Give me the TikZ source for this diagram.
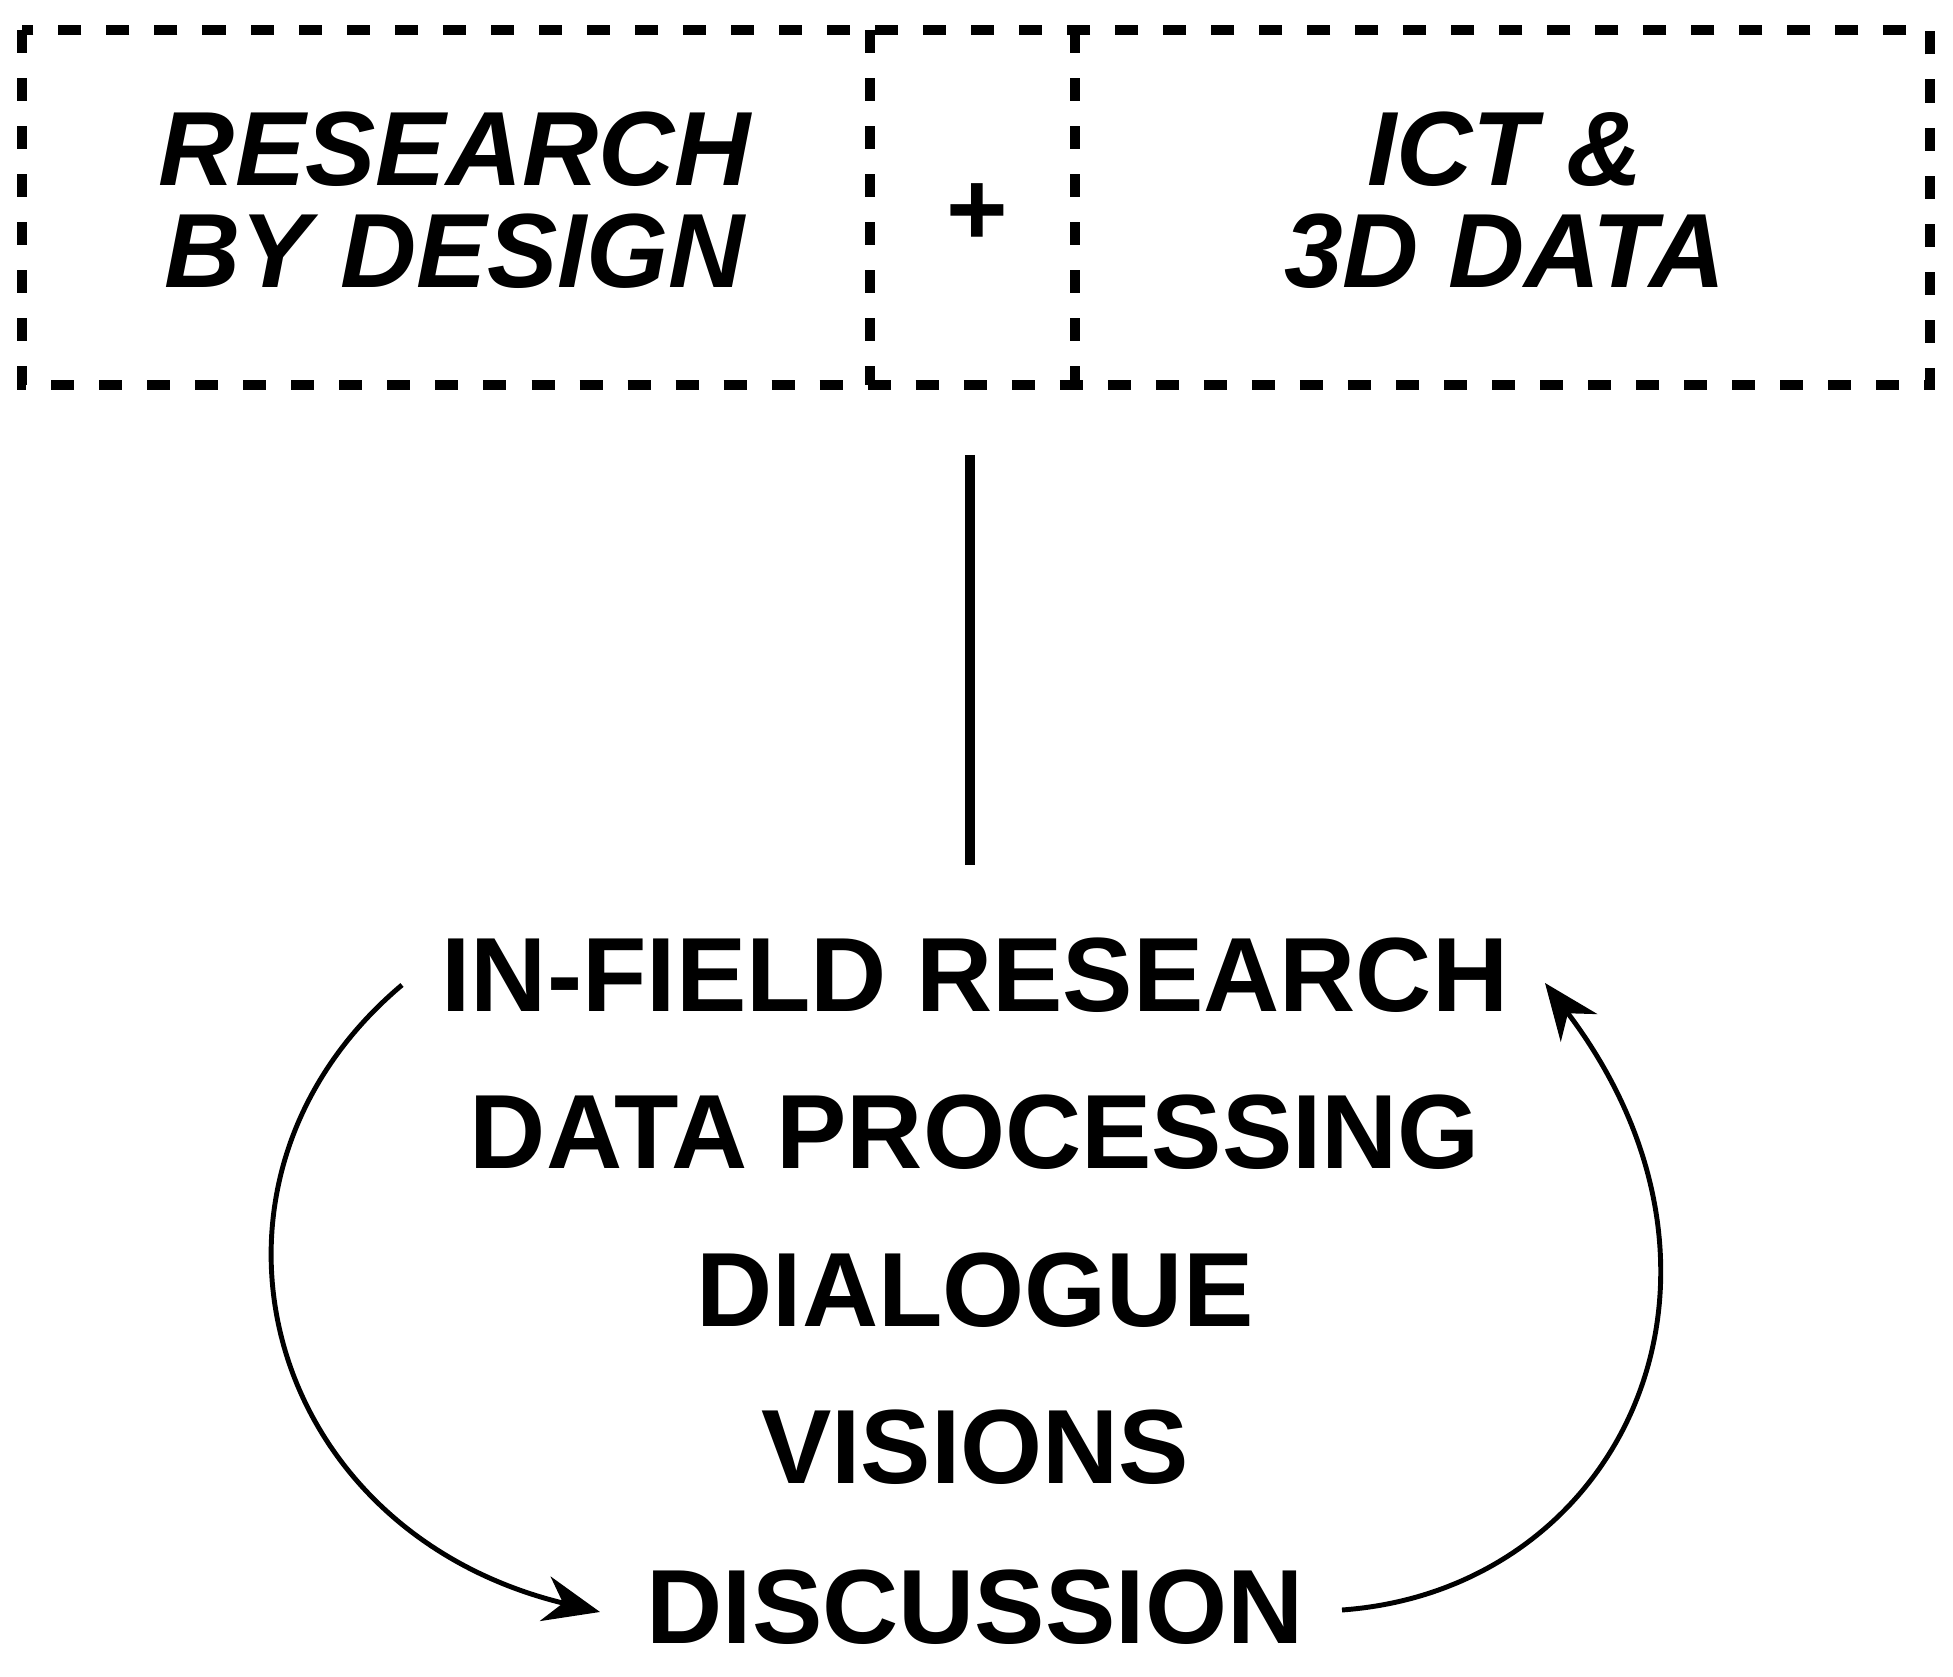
\documentclass[tikz,border=0pt]{standalone}
\usepackage{fontspec}
\setmainfont{Liberation Sans}
\usetikzlibrary{arrows.meta}
\begin{document}
\begin{tikzpicture}[x=0.01cm,y=-0.01cm,
 box/.style={line width=10pt*0.285, dash pattern=on 2.3mm off 2.5mm},
 top/.style={font=\bfseries\itshape\fontsize{30}{29}\selectfont, align=center, inner sep=0},
 stp/.style={font=\bfseries\fontsize{30}{30}\selectfont, inner sep=0},
 cyc/.style={line width=1.4pt, -{Stealth[length=16pt,width=13pt]}}]
\useasboundingbox (0,0) rectangle (1953,1677);
\draw[box] (22,30) rectangle (1930,385);
\draw[box] (870,30) -- (870,385);
\draw[box] (1075,30) -- (1075,385);
\node[top] (rbd) at (455,200) {RESEARCH\\BY DESIGN};
\node[top] (plus) at (975,215) {+};
\node[top] (ict) at (1505,200) {ICT \&\\3D DATA};
\coordinate (l1) at (970,455);
\coordinate (l2) at (970,865);
\draw[line width=2.8pt] (l1) -- (l2);
\node[stp] (a) at (975,975) {IN-FIELD RESEARCH};
\node[stp] (b) at (975,1132) {DATA PROCESSING};
\node[stp] (c) at (975,1290) {DIALOGUE};
\node[stp] (d) at (975,1447) {VISIONS};
\node[stp] (e) at (975,1607) {DISCUSSION};
\coordinate (s1) at (402,985);
\coordinate (t1) at (600,1612);
\coordinate (s2) at (1342,1610);
\coordinate (t2) at (1545,983);
\draw[cyc] (s1) .. controls (170,1180) and (260,1530) .. (t1);
\draw[cyc] (s2) .. controls (1620,1590) and (1770,1280) .. (t2);
\end{tikzpicture}
\end{document}
